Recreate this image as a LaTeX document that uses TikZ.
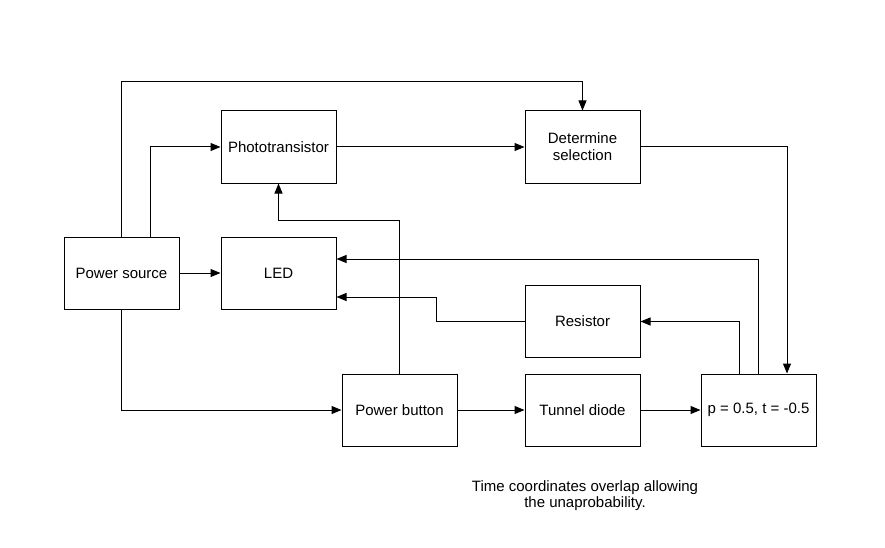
\documentclass[tikz,border=0pt]{standalone}
\usepackage{fontspec}
\setmainfont{Liberation Sans}
\usetikzlibrary{arrows.meta}

\begin{document}
\begin{tikzpicture}[x=1pt, y=-1pt,
    block/.style={draw, line width=1pt, minimum width=115pt, minimum height=72pt,
        align=center, font=\fontsize{15}{17}\selectfont, inner sep=0pt},
    link/.style={line width=1pt, -{Triangle[length=10pt, width=8pt]}}]
    \useasboundingbox (0,0) rectangle (885,548);

    \node[block] (src) at (121.5,273) {Power source};
    \node[block] (photo) at (278.5,147) {Phototransistor};
    \node[block] (det) at (582.5,147) {Determine\\selection};
    \node[block] (led) at (278.5,273) {LED};
    \node[block] (res) at (582.5,321.5) {Resistor};
    \node[block] (btn) at (399.5,410) {Power button};
    \node[block] (tun) at (582.5,410) {Tunnel diode};
    \node[block] (pt) at (758.5,410) {p = 0.5, t = -0.5};

    \draw[link] (src.north) -- (src.north |- 0,82) -| (det.north);
    \draw[link] ([xshift=28.5pt]src.north) |- (photo.west);
    \draw[link] (photo.east) -- (det.west);
    \draw[link] (det.east) -| ([xshift=28.5pt]pt.north);
    \draw[link] (src.east) -- (led.west);
    \draw[link] (src.south) |- (btn.west);
    \draw[link] (btn.north) -- (btn.north |- 0,220) -| (photo.south);
    \draw[link] (btn.east) -- (tun.west);
    \draw[link] (tun.east) -- (pt.west);
    \draw[link] (pt.north) |- ([yshift=14pt]led.east);
    \draw[link] ([xshift=-19.5pt]pt.north) |- (res.east);
    \draw[link] (res.west) -- (436,321.5) |- ([yshift=-24pt]led.east);

    % note
    \node[align=center, font=\fontsize{15}{16}\selectfont] (note) at (585,496)
        {Time coordinates overlap allowing\\the unaprobability.};
\end{tikzpicture}
\end{document}
